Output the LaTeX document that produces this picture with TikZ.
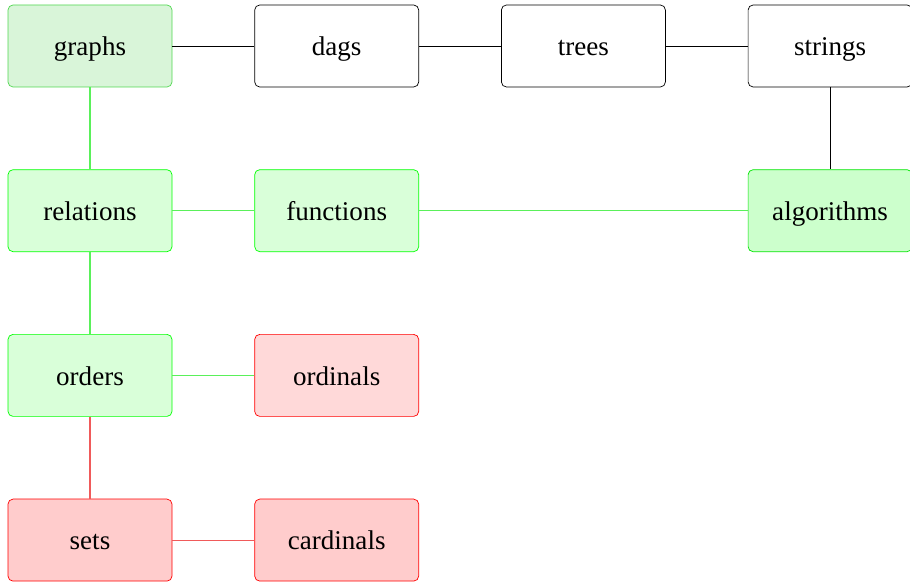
\documentclass[tikz,border=0pt]{standalone}
\usepackage{fontspec}
\setmainfont{Liberation Serif}
\usetikzlibrary{positioning}

\definecolor{graphfill}{RGB}{217,245,217}
\definecolor{graphline}{RGB}{80,215,80}
\definecolor{linkgreen}{RGB}{90,240,90}
\definecolor{linkred}{RGB}{240,90,90}

\tikzset{
  topic/.style={draw, rounded corners=0.1cm, minimum width=3.28cm,
    minimum height=1.64cm, inner sep=0pt, text height=13pt, text depth=1.8pt,
    font=\fontsize{15.4}{18}\selectfont},
  plain/.style={topic, draw=black, fill=white},
  known/.style={topic, draw=green, fill=green!15},
  solid known/.style={topic, draw=green!90!black, fill=green!20},
  weak/.style={topic, draw=red, fill=red!15},
  solid weak/.style={topic, draw=red, fill=red!20},
  glink/.style={linkgreen, line width=0.6pt},
  rlink/.style={linkred, line width=0.6pt},
  blink/.style={black, line width=0.5pt}
}

\begin{document}
\begin{tikzpicture}[node distance=1.64cm and 1.64cm]
  \useasboundingbox (0,0) rectangle (18.2,11.64);

  % top row
  \node[known, draw=graphline, fill=graphfill] (graphs) at (1.8,10.72) {graphs};
  \node[plain, right=of graphs] (dags) {dags};
  \node[plain, right=of dags] (trees) {trees};
  \node[plain, right=of trees] (strings) {strings};

  % second row
  \node[known, below=of graphs] (relations) {relations};
  \node[known, right=of relations] (functions) {functions};
  \node[solid known, below=of strings] (algorithms) {algorithms};

  % lower rows
  \node[known, below=of relations] (orders) {orders};
  \node[weak, right=of orders] (ordinals) {ordinals};
  \node[solid weak, below=of orders] (sets) {sets};
  \node[solid weak, right=of sets] (cardinals) {cardinals};

  % links
  \draw[blink] (graphs) -- (dags);
  \draw[blink] (dags) -- (trees);
  \draw[blink] (trees) -- (strings);
  \draw[blink] (strings) -- (algorithms);
  \draw[glink] (graphs) -- (relations);
  \draw[glink] (relations) -- (functions);
  \draw[glink] (functions) -- (algorithms);
  \draw[glink] (relations) -- (orders);
  \draw[glink] (orders) -- (ordinals);
  \draw[rlink] (orders) -- (sets);
  \draw[rlink] (sets) -- (cardinals);
\end{tikzpicture}
\end{document}
